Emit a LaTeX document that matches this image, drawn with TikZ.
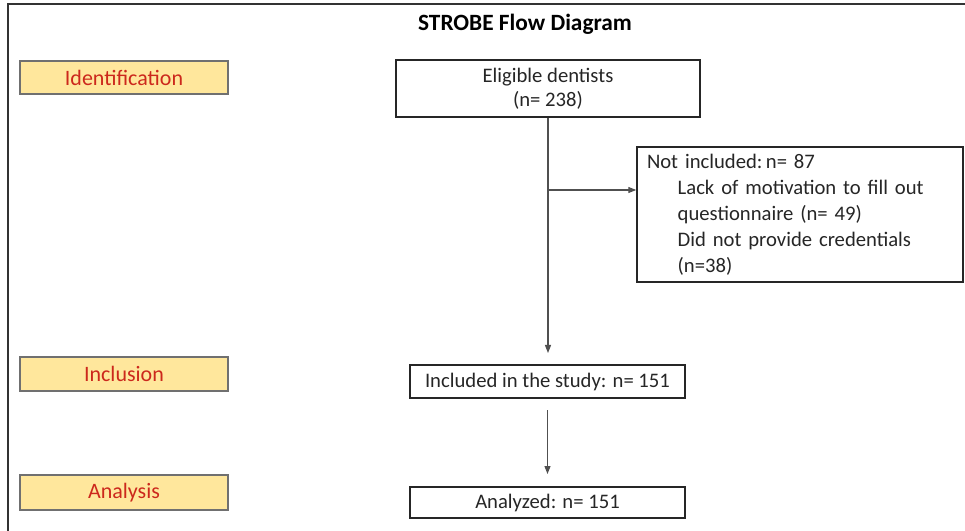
\documentclass[tikz,border=0pt]{standalone}
\usepackage{fontspec}
\setmainfont{Carlito}
\usetikzlibrary{arrows.meta,shadows}
\definecolor{stagefill}{RGB}{255,231,156}
\definecolor{stageedge}{RGB}{112,112,112}
\definecolor{stagetext}{RGB}{204,40,28}
\definecolor{boxtext}{RGB}{38,38,38}
\definecolor{linegray}{RGB}{80,80,80}
\begin{document}
\begin{tikzpicture}[x=0.75pt,y=-0.75pt,
  stagebox/.style={draw=stageedge,line width=1pt,fill=stagefill,
    text=stagetext,font=\fontsize{16.5pt}{18pt}\selectfont,
    minimum width=156pt,inner sep=0pt,
    drop shadow={shadow xshift=0.8pt,shadow yshift=-0.8pt,fill=black!18,opacity=1}},
  flowbox/.style={draw=black!85,line width=1.1pt,fill=white,text=boxtext,
    font=\fontsize{15.5pt}{18pt}\selectfont,inner sep=0pt,align=center},
  flowarrow/.style={draw=linegray,line width=0.8pt,
    -{Triangle[length=6pt,width=4.5pt]}}]
  \useasboundingbox (0,0) rectangle (965,531);
  \fill[white] (0,0) rectangle (965,531);

  % page frame: top and left rules
  \draw[black!80,line width=1.5pt] (8,531) -- (8,4) -- (965,4);

  % title
  \node[font=\bfseries\fontsize{17.5pt}{20pt}\selectfont,text=black] (title) at (525,24) {STROBE Flow Diagram};

  % stage labels
  \node[stagebox,minimum height=24.75pt] (ident) at (124,77.5) {Identification};
  \node[stagebox,minimum height=25.5pt] (inclab) at (124,374) {Inclusion};
  \node[stagebox,minimum height=26.25pt] (analab) at (124,492.5) {Analysis};

  % flow boxes
  \node[flowbox,minimum width=228pt,minimum height=42.75pt] (elig) at (548,88.5)
    {Eligible dentists\\(n= 238)};
  \node[flowbox,minimum width=244.5pt,minimum height=101.25pt,
        text width=229.5pt,align=left,font=\fontsize{15.5pt}{19.5pt}\selectfont] (notinc) at (800,214.5)
    {Not included:\,n= 87\\
     \hspace*{23pt}Lack of motivation to fill out\\
     \hspace*{23pt}questionnaire (n= 49)\\
     \hspace*{23pt}Did not provide credentials\\
     \hspace*{23pt}(n=38)};
  \node[flowbox,minimum width=206.25pt,minimum height=24.75pt] (incl) at (547.5,381.5)
    {Included in the study: n= 151};
  \node[flowbox,minimum width=206.25pt,minimum height=23.25pt] (anal) at (547.5,502.5)
    {Analyzed: n= 151};

  % connectors
  \coordinate (branch) at (548,190);
  \coordinate (inclin) at (548,353);
  \coordinate (inclout) at (547.5,410);
  \coordinate (analin) at (547.5,474);
  \draw[flowarrow] (elig.south) -- (inclin);
  \draw[flowarrow] (branch) -- (branch -| notinc.west);
  \draw[flowarrow] (inclout) -- (analin);
\end{tikzpicture}
\end{document}
